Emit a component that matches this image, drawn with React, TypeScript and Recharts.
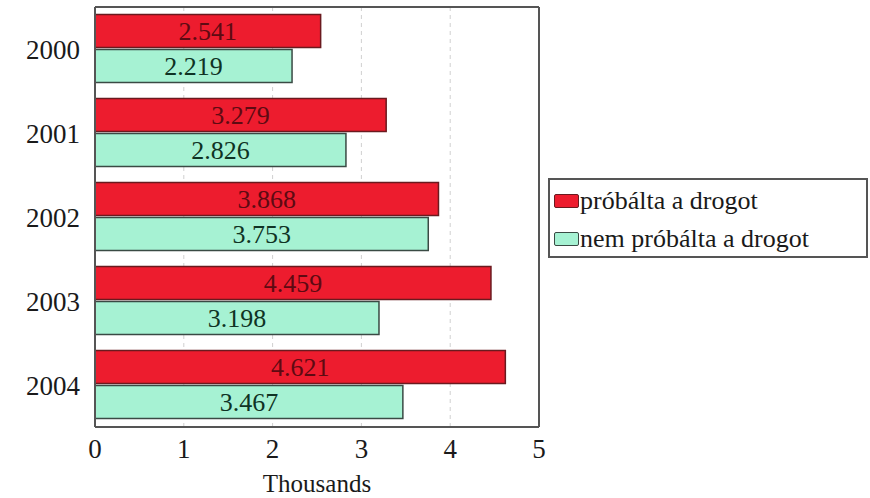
import React from 'react';
import { BarChart, Bar, XAxis, YAxis, CartesianGrid, Legend, LabelList } from 'recharts';

const years = ['2000', '2001', '2002', '2003', '2004'];
const tried = [2.541, 3.279, 3.868, 4.459, 4.621];
const notTried = [2.219, 2.826, 3.753, 3.198, 3.467];
const xTicks = [0, 1, 2, 3, 4, 5];

const RED = '#ED1C2E';
const GREEN = '#A6F2D3';
const FONT = '"Liberation Serif", "DejaVu Serif", serif';

const seriesInfo = [
  { key: 'tried', name: 'próbálta a drogot', fill: RED, stroke: '#6a1a1f' },
  { key: 'notTried', name: 'nem próbálta a drogot', fill: GREEN, stroke: '#3a4a44' },
];

const LegendBox = () => (
  <div
    style={{
      border: '2px solid #555',
      padding: '2px 4px',
      fontFamily: FONT,
      fontSize: 26,
      color: '#1a1a1a',
      boxSizing: 'border-box',
      width: 320,
      height: 80,
    }}
  >
    {seriesInfo.map((s) => (
      <div key={s.key} style={{ display: 'flex', alignItems: 'center', height: 38 }}>
        <span
          style={{
            display: 'inline-block',
            width: 23,
            height: 12,
            background: s.fill,
            border: `1.5px solid ${s.stroke}`,
            borderRadius: 2,
            marginRight: 1,
          }}
        />
        <span>{s.name}</span>
      </div>
    ))}
  </div>
);

const App: React.FC = () => {
  const data = years.map((year, i) => ({
    year,
    tried: tried[i],
    notTried: notTried[i],
  }));

  return (
    <div style={{ position: 'absolute', left: 0, top: 0, background: '#fff' }}>
      <BarChart
        layout="vertical"
        width={870}
        height={498}
        data={data}
        margin={{ top: 6, right: 330, bottom: 0, left: 0 }}
        barCategoryGap="9%"
        barGap={2}
      >
        <CartesianGrid horizontal={false} vertical strokeDasharray="4 4" stroke="#d0d0d0" />
        <XAxis
          type="number"
          domain={[0, 5]}
          ticks={xTicks}
          height={71}
          tickSize={0}
          tickMargin={12}
          axisLine={{ stroke: '#555', strokeWidth: 2 }}
          tick={{ fontFamily: FONT, fontSize: 27, fill: '#1a1a1a' }}
          label={{ value: 'Thousands', position: 'insideBottom', offset: 6, style: { fontFamily: FONT, fontSize: 25, fill: '#1a1a1a' } }}
        />
        <XAxis
          xAxisId="top"
          orientation="top"
          type="number"
          domain={[0, 5]}
          height={1}
          tick={false}
          tickLine={false}
          axisLine={{ stroke: '#555', strokeWidth: 2 }}
        />
        <YAxis
          type="category"
          dataKey="year"
          width={95}
          tickSize={0}
          tickMargin={15}
          axisLine={{ stroke: '#555', strokeWidth: 2 }}
          tick={{ fontFamily: FONT, fontSize: 27, fill: '#1a1a1a' }}
        />
        <YAxis
          yAxisId="right"
          orientation="right"
          type="category"
          dataKey="year"
          width={1}
          tick={false}
          tickLine={false}
          axisLine={{ stroke: '#555', strokeWidth: 2 }}
        />
        <Legend
          layout="horizontal"
          verticalAlign="middle"
          content={() => <LegendBox />}
          wrapperStyle={{ left: 548, top: 178, width: 320, height: 80 }}
        />
        <Bar dataKey="tried" name="próbálta a drogot" fill={RED} stroke="#6a1a1f" strokeWidth={1.5} isAnimationActive={false}>
          <LabelList
            dataKey="tried"
            position="center"
            formatter={(v: number) => v.toFixed(3)}
            style={{ fontFamily: FONT, fontSize: 26, fill: '#5e0a12' }}
          />
        </Bar>
        <Bar dataKey="notTried" name="nem próbálta a drogot" fill={GREEN} stroke="#3a4a44" strokeWidth={1.5} isAnimationActive={false}>
          <LabelList
            dataKey="notTried"
            position="center"
            formatter={(v: number) => v.toFixed(3)}
            style={{ fontFamily: FONT, fontSize: 26, fill: '#0f3324' }}
          />
        </Bar>
      </BarChart>
    </div>
  );
};

export default App;
